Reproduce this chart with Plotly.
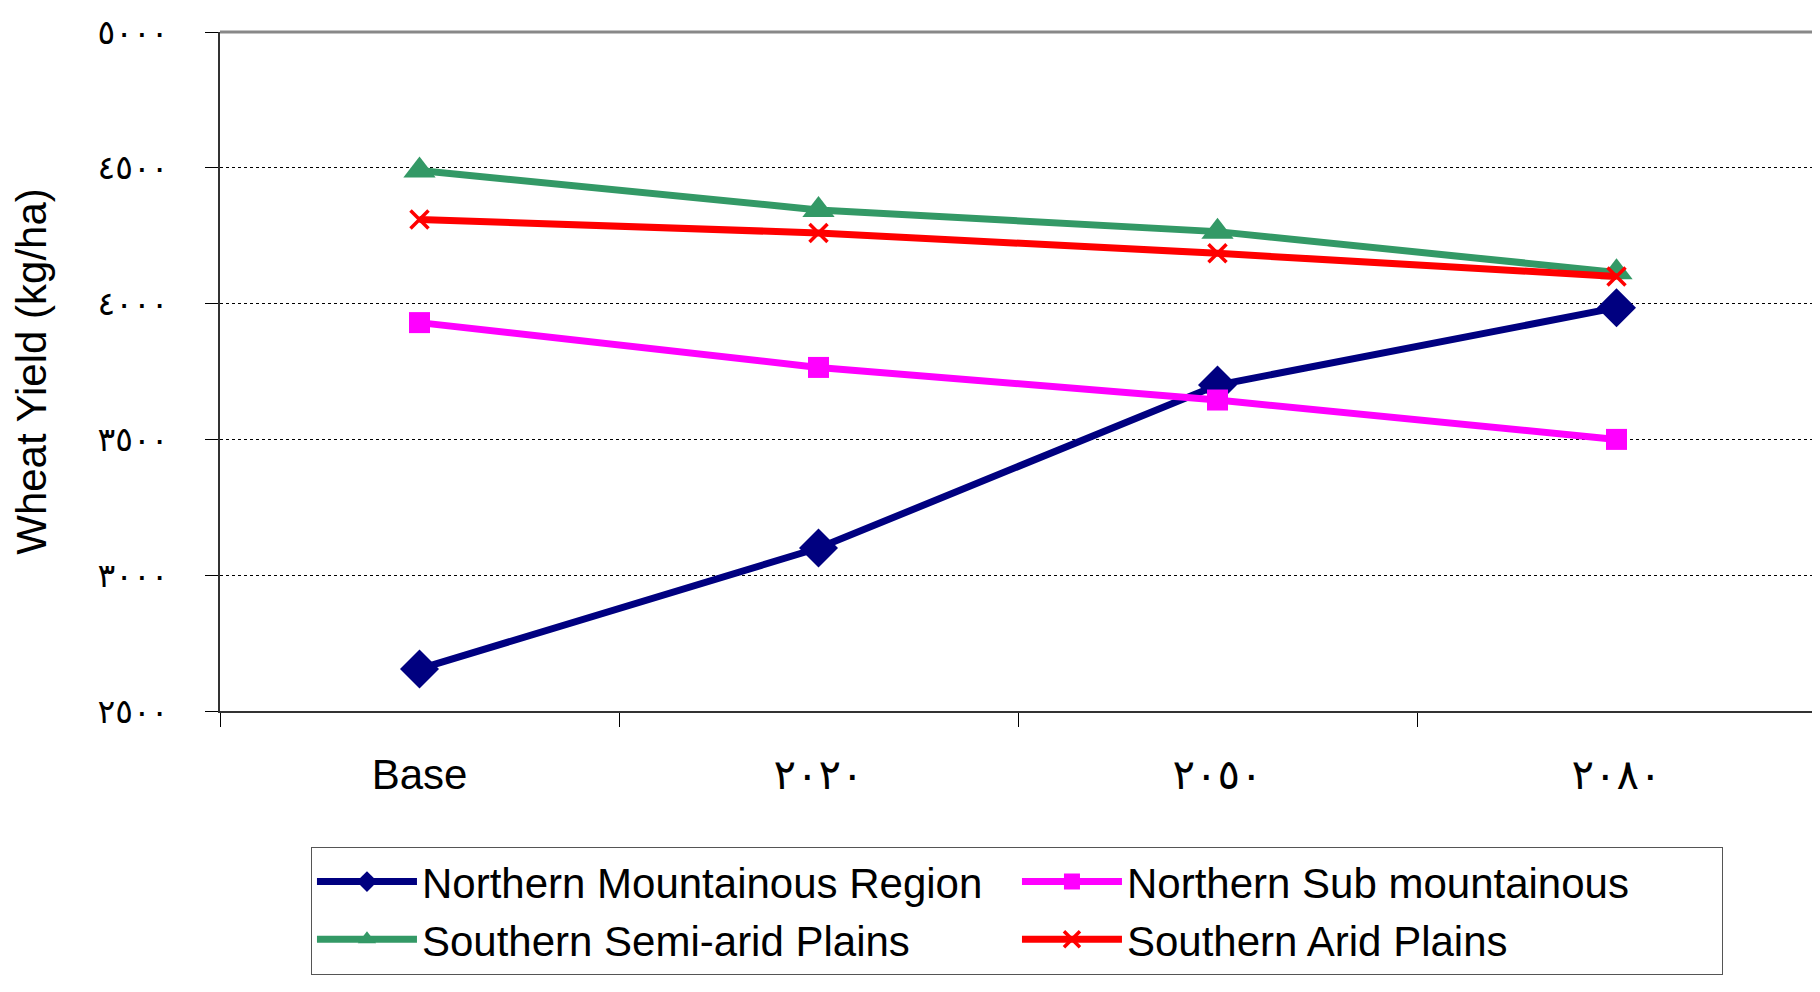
import plotly.graph_objects as go

categories = ["Base", "٢٠٢٠", "٢٠٥٠", "٢٠٨٠"]
northern_mountainous = [2655, 3100, 3700, 3985]
northern_sub = [3930, 3765, 3645, 3500]
southern_semi_arid = [4490, 4345, 4265, 4115]
southern_arid = [4310, 4260, 4185, 4100]

y_tickvals = [2500, 3000, 3500, 4000, 4500, 5000]
y_ticktext = ["٢٥٠٠", "٣٠٠٠", "٣٥٠٠", "٤٠٠٠", "٤٥٠٠", "٥٠٠٠"]

FONT = "Arial, 'Liberation Sans', 'DejaVu Sans', sans-serif"

fig = go.Figure()
fig.add_trace(go.Scatter(
    x=categories, y=northern_mountainous, name="Northern Mountainous Region",
    mode="lines+markers", line=dict(color="#000080", width=7),
    marker=dict(symbol="diamond", size=30, color="#000080")))
fig.add_trace(go.Scatter(
    x=categories, y=northern_sub, name="Northern Sub mountainous",
    mode="lines+markers", line=dict(color="#FF00FF", width=7),
    marker=dict(symbol="square", size=21, color="#FF00FF")))
fig.add_trace(go.Scatter(
    x=categories, y=southern_semi_arid, name="Southern Semi-arid Plains",
    mode="lines+markers", line=dict(color="#339966", width=7),
    marker=dict(symbol="triangle-up", size=28, color="#339966")))
fig.add_trace(go.Scatter(
    x=categories, y=southern_arid, name="Southern Arid Plains",
    mode="lines+markers", line=dict(color="#FF0000", width=7),
    marker=dict(symbol="x-thin", size=18, color="#FF0000",
                line=dict(color="#FF0000", width=3.5))))

fig.update_layout(
    width=1820, height=992,
    margin=dict(l=212, r=12, t=24, b=289, autoexpand=False),
    paper_bgcolor="white", plot_bgcolor="white",
    font=dict(family=FONT, color="black", size=42),
    showlegend=True,
    legend=dict(
        orientation="h", x=0.057, xanchor="left", y=-0.2, yanchor="top",
        entrywidth=590, entrywidthmode="pixels", itemwidth=100,
        bordercolor="#555555", borderwidth=1, bgcolor="white",
        font=dict(family=FONT, size=42, color="black"),
    ),
    xaxis=dict(
        type="category", range=[-0.5, 3.5],
        tickson="boundaries", ticks="outside", ticklen=14, tickcolor="black", tickwidth=1,
        showline=True, linecolor="#333333", linewidth=2,
        showgrid=False, zeroline=False,
        tickfont=dict(family=FONT, size=42, color="black"),
        ticklabelstandoff=26,
    ),
    yaxis=dict(
        range=[2500, 5000], tickvals=y_tickvals, ticktext=y_ticktext,
        ticks="outside", ticklen=13, tickcolor="black", tickwidth=1,
        showline=True, linecolor="#333333", linewidth=2,
        showgrid=True, gridcolor="black", gridwidth=1, griddash="dot",
        zeroline=False,
        tickfont=dict(family=FONT, size=33, color="black"),
        ticklabelstandoff=30,
        title=dict(text="Wheat Yield (kg/ha)", font=dict(family=FONT, size=42, color="black"),
                   standoff=40),
    ),
    shapes=[
        dict(type="line", xref="paper", yref="paper", x0=0, x1=1, y0=1, y1=1,
             line=dict(color="#888888", width=3)),
        dict(type="line", xref="paper", yref="paper", x0=1, x1=1, y0=0, y1=1,
             line=dict(color="#888888", width=3)),
    ],
)

fig.write_html("out.html")
